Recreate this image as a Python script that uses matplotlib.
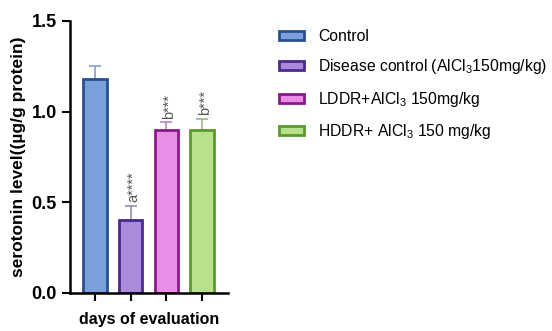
import matplotlib
matplotlib.use('Agg')
import matplotlib.pyplot as plt
from matplotlib.patches import Patch

plt.rcParams['font.family'] = ['Liberation Sans', 'DejaVu Sans']
plt.rcParams['mathtext.fontset'] = 'custom'
plt.rcParams['mathtext.rm'] = 'Liberation Sans'

groups = ['Control', r'Disease control (AlCl$_3$150mg/kg)',
          r'LDDR+AlCl$_3$ 150mg/kg', r'HDDR+ AlCl$_3$ 150 mg/kg']
means = [1.18, 0.40, 0.90, 0.90]
errs = [0.07, 0.08, 0.04, 0.06]
marks = ['a****', 'b***', 'b***']
fills = ['#7aa0dc', '#a98bdc', '#e98de6', '#b9e08a']
edges = ['#2a4f93', '#4a2a8a', '#8a1a8a', '#5a9a2a']
errcol = ['#8a9cc0', '#9a8ab8', '#b888b8', '#9ab88a']

fig = plt.figure(figsize=(5.52, 3.31), dpi=100)
ax = fig.add_axes([0.127, 0.115, 0.286, 0.822])

x = range(len(means))
for i in x:
    ax.errorbar(i, means[i], yerr=[[0], [errs[i]]], color=errcol[i],
                capsize=4, elinewidth=1.2, capthick=1.2, zorder=1)
    ax.bar(i, means[i], width=0.65, color=fills[i], edgecolor=edges[i],
           linewidth=2, zorder=2)

for i in range(1, 4):
    ax.text(i + 0.08, means[i] + errs[i] + 0.02, marks[i - 1], rotation=90,
            ha='center', va='bottom', fontsize=10.5, color='#555555')

ax.set_xlim(-0.7, 3.73)
ax.set_ylim(0, 1.5)
ax.set_yticks([0.0, 0.5, 1.0, 1.5])
ax.set_yticklabels(['0.0', '0.5', '1.0', '1.5'], fontweight='bold', fontsize=13)
ax.set_xticks(list(x))
ax.set_xticklabels([])
ax.tick_params(axis='both', width=1.5, length=6, direction='out')
for s in ['top', 'right']:
    ax.spines[s].set_visible(False)
for s in ['left', 'bottom']:
    ax.spines[s].set_linewidth(1.8)

ax.set_ylabel('serotonin level((µg/g protein)', fontweight='bold', fontsize=12.5)
ax.yaxis.set_label_coords(-0.28, 0.5)
ax.set_xlabel('days of evaluation', fontweight='bold', fontsize=11.5)
ax.xaxis.set_label_coords(0.5, -0.07)

handles = [Patch(facecolor=fills[i], edgecolor=edges[i], linewidth=2)
           for i in range(4)]
fig.legend(handles, groups, loc='upper left', bbox_to_anchor=(0.48, 0.955),
           frameon=False, fontsize=11.3, handlelength=1.6, handleheight=0.5,
           handletextpad=0.9, labelspacing=0.85)

plt.savefig('out.png', dpi=100)
